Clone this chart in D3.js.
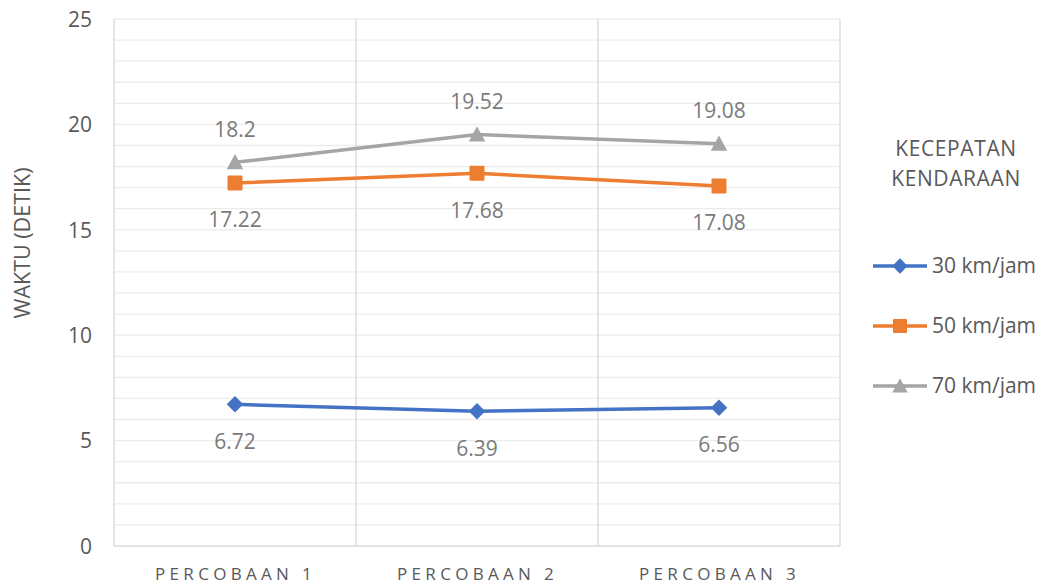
<!DOCTYPE html>
<html>
<head>
<meta charset="utf-8">
<script src="https://cdn.jsdelivr.net/npm/d3@7"></script>
<style>
  html, body { margin: 0; padding: 0; background: #ffffff; }
  svg { display: block; }
  text { font-family: "Open Sans", "Noto Sans", sans-serif; }
</style>
</head>
<body>
<svg id="chart" width="1048" height="584"></svg>
<script>
const categories = ["PERCOBAAN 1", "PERCOBAAN 2", "PERCOBAAN 3"];
const seriesNames = ["30 km/jam", "50 km/jam", "70 km/jam"];
const values30 = [6.72, 6.39, 6.56];
const values50 = [17.22, 17.68, 17.08];
const values70 = [18.2, 19.52, 19.08];
const yTicks = [0, 5, 10, 15, 20, 25];
const yTitle = "WAKTU (DETIK)";
const legendTitle = ["KECEPATAN", "KENDARAAN"];

const series = [
  { name: seriesNames[0], values: values30, color: "#4472c4", marker: "diamond", labelPos: "below" },
  { name: seriesNames[1], values: values50, color: "#ed7d31", marker: "square", labelPos: "below" },
  { name: seriesNames[2], values: values70, color: "#a5a5a5", marker: "triangle", labelPos: "above" }
];

const svg = d3.select("#chart");
const plot = { left: 114, right: 840, top: 19, bottom: 546 };

const x = d3.scalePoint().domain(categories).range([plot.left, plot.right]).padding(0.5);
const xBand = d3.scaleBand().domain(categories).range([plot.left, plot.right]);
const y = d3.scaleLinear().domain([0, 25]).range([plot.bottom, plot.top]);

// horizontal gridlines (every 1 unit)
const gridVals = d3.range(1, 26);
svg.append("g").selectAll("line").data(gridVals).join("line")
  .attr("x1", plot.left).attr("x2", plot.right)
  .attr("y1", d => y(d)).attr("y2", d => y(d))
  .attr("stroke", "#ececec").attr("stroke-width", 1.3);

// vertical category separators
const seps = categories.slice(1).map(c => xBand(c)).concat([plot.right]);
svg.append("g").selectAll("line").data(seps).join("line")
  .attr("x1", d => d).attr("x2", d => d)
  .attr("y1", plot.top).attr("y2", plot.bottom)
  .attr("stroke", "#d9d9d9").attr("stroke-width", 1.3);

// axes lines
svg.append("line").attr("x1", plot.left).attr("x2", plot.left)
  .attr("y1", plot.top).attr("y2", plot.bottom)
  .attr("stroke", "#d9d9d9").attr("stroke-width", 1.3);
svg.append("line").attr("x1", plot.left).attr("x2", plot.right)
  .attr("y1", plot.bottom).attr("y2", plot.bottom)
  .attr("stroke", "#d9d9d9").attr("stroke-width", 1.3);

// y axis via d3 axis
const yAxis = d3.axisLeft(y).tickValues(yTicks).tickSize(0).tickPadding(0).tickFormat(d3.format("d"));
const yg = svg.append("g").attr("transform", `translate(${plot.left - 22},0)`).call(yAxis);
yg.select(".domain").remove();
yg.selectAll("text").attr("fill", "#595959").style("font-size", "21px")
  .attr("font-family", "'Open Sans', sans-serif").attr("dy", "0.35em");

// x axis
const xAxis = d3.axisBottom(x).tickSize(0).tickPadding(0);
const xg = svg.append("g").attr("transform", `translate(0,${plot.bottom + 28})`).call(xAxis);
xg.select(".domain").remove();
xg.selectAll("text").attr("fill", "#595959").style("font-size", "17px")
  .style("letter-spacing", "4.3px")
  .attr("font-family", "'Open Sans', sans-serif").attr("dy", "0.35em");

// y title
svg.append("text")
  .attr("transform", `translate(30,243) rotate(-90)`)
  .attr("text-anchor", "middle")
  .attr("fill", "#595959").style("font-size", "21.5px")
  .text(yTitle);

// markers
function drawMarker(g, type, color, size) {
  if (type === "diamond") {
    const s = size * 0.55;
    g.append("path").attr("d", `M0,${-s}L${s},0L0,${s}L${-s},0Z`).attr("fill", color);
  } else if (type === "square") {
    const s = size * 0.5;
    g.append("rect").attr("x", -s).attr("y", -s).attr("width", 2 * s).attr("height", 2 * s)
      .attr("rx", 1).attr("fill", color);
  } else {
    const s = size * 0.55;
    g.append("path").attr("d", `M0,${-s}L${s},${s * 0.85}L${-s},${s * 0.85}Z`).attr("fill", color);
  }
}

const line = d3.line().x((d, i) => x(categories[i])).y(d => y(d));

series.forEach(s => {
  svg.append("path").datum(s.values).attr("d", line)
    .attr("fill", "none").attr("stroke", s.color).attr("stroke-width", 3.5)
    .attr("stroke-linejoin", "round");
  s.values.forEach((v, i) => {
    const g = svg.append("g").attr("transform", `translate(${x(categories[i])},${y(v)})`);
    drawMarker(g, s.marker, s.color, 15);
  });
  s.values.forEach((v, i) => {
    svg.append("text")
      .attr("x", x(categories[i]))
      .attr("y", y(v) + (s.labelPos === "above" ? -33 : 37))
      .attr("dy", "0.35em")
      .attr("text-anchor", "middle")
      .attr("fill", "#7a7a7a").style("font-size", "21px")
      .text(d3.format("")(v));
  });
});

// legend
const legendX = 956;
svg.append("g").selectAll("text").data(legendTitle).join("text")
  .attr("x", legendX).attr("y", (d, i) => 149 + i * 30)
  .attr("dy", "0.35em").attr("text-anchor", "middle")
  .attr("fill", "#595959").style("font-size", "21px")
  .style("letter-spacing", "0.6px")
  .text(d => d);

const legendY = d3.scalePoint().domain(seriesNames).range([266, 386]);
series.forEach(s => {
  const ly = legendY(s.name);
  svg.append("line").attr("x1", 873).attr("x2", 927).attr("y1", ly).attr("y2", ly)
    .attr("stroke", s.color).attr("stroke-width", 3.5);
  const g = svg.append("g").attr("transform", `translate(900,${ly})`);
  drawMarker(g, s.marker, s.color, 14);
  svg.append("text").attr("x", 932).attr("y", ly).attr("dy", "0.35em")
    .attr("fill", "#595959").style("font-size", "21px").text(s.name);
});
</script>
</body>
</html>
